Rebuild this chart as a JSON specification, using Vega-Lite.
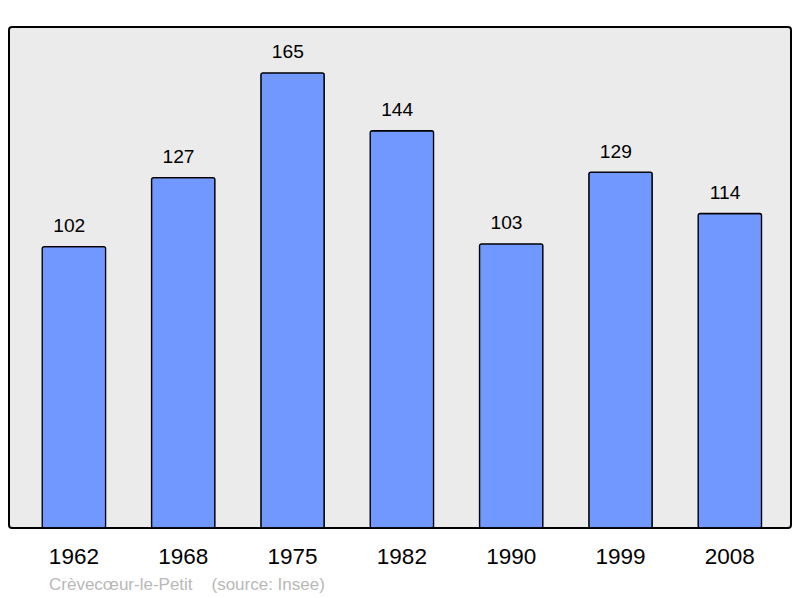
{
  "$schema": "https://vega.github.io/schema/vega-lite/v6.json",
  "width": 782,
  "height": 501,
  "autosize": {"type": "none"},
  "padding": {"left": 9, "top": 27, "right": 9, "bottom": 70},
  "background": "#ffffff",
  "config": {
    "view": {"fill": "#ebebeb", "stroke": "#000000", "strokeWidth": 2, "cornerRadius": 3},
    "font": "Liberation Sans"
  },
  "title": {
    "text": "Crèvecœur-le-Petit\u00a0\u00a0\u00a0\u00a0(source: Insee)",
    "orient": "bottom",
    "anchor": "start",
    "frame": "group",
    "dx": 40,
    "offset": 9,
    "fontSize": 17,
    "fontWeight": "normal",
    "color": "#b8b8b8",
    "font": "Liberation Sans"
  },
  "data": {
    "values": [
      {"year": "1962", "pop": 102},
      {"year": "1968", "pop": 127},
      {"year": "1975", "pop": 165},
      {"year": "1982", "pop": 144},
      {"year": "1990", "pop": 103},
      {"year": "1999", "pop": 129},
      {"year": "2008", "pop": 114}
    ]
  },
  "encoding": {
    "x": {
      "field": "year",
      "type": "nominal",
      "sort": null,
      "scale": {"paddingInner": 0.42, "paddingOuter": 0.2865, "align": 0.53},
      "axis": {
        "title": null,
        "domain": false,
        "ticks": false,
        "labelAngle": 0,
        "labelFontSize": 22.5,
        "labelColor": "#000000",
        "labelPadding": 17,
        "labelFont": "Liberation Sans"
      }
    },
    "y": {
      "field": "pop",
      "type": "quantitative",
      "scale": {"domain": [0, 181.6], "nice": false},
      "axis": null
    }
  },
  "layer": [
    {
      "mark": {"type": "bar", "fill": "#7098ff", "stroke": "#000000", "strokeWidth": 1.3, "cornerRadius": 2}
    },
    {
      "mark": {"type": "text", "baseline": "alphabetic", "dy": -14.5, "dx": -4.7, "fontSize": 19.2, "color": "#000000", "font": "Liberation Sans"},
      "encoding": {"text": {"field": "pop", "type": "quantitative"}}
    }
  ]
}
